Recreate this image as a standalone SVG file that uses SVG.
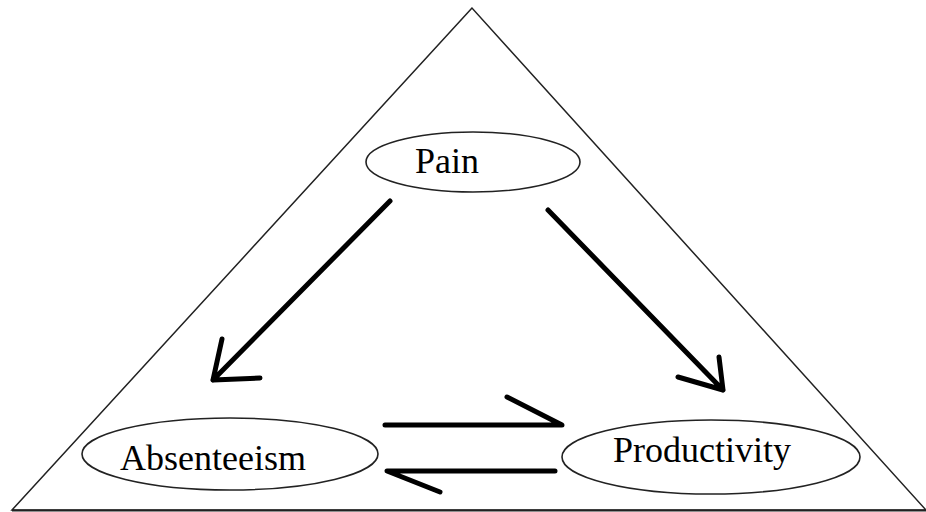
<svg xmlns="http://www.w3.org/2000/svg" width="926" height="512" viewBox="0 0 926 512">
<style>
.tri{fill:none;stroke:#222;stroke-width:1.5}
.node ellipse{fill:#fff;stroke:#222;stroke-width:1.6}
.node text{font-family:"Liberation Serif","Times New Roman",serif;font-size:36px;fill:#000}
.conn path{fill:none;stroke:#000;stroke-width:5;stroke-linecap:round;stroke-linejoin:round}
</style>
<rect width="926" height="512" fill="#fff"/>
<polygon class="tri" points="472,8 12,510 926,510"/>
<line x1="12" y1="510.5" x2="926" y2="510.5" stroke="#222" stroke-width="2"/>
<g id="pain" class="node">
<ellipse cx="473" cy="162" rx="107" ry="30"/>
<text x="415" y="173">Pain</text>
</g>
<g id="absenteeism" class="node">
<ellipse cx="230" cy="454" rx="148" ry="36"/>
<text x="120" y="470">Absenteeism</text>
</g>
<g id="productivity" class="node">
<ellipse cx="711" cy="457" rx="149" ry="37"/>
<text x="613" y="462">Productivity</text>
</g>
<g id="connectors" class="conn">
<path d="M390,201 L213,380 M222,339 L213,380 L260,378"/>
<path d="M548,210 L723,390 M719,357 L723,390 L678,377"/>
<path d="M385,425 L562,425 L507,397"/>
<path d="M555,471 L387,471 L440,492"/>
</g>
</svg>
